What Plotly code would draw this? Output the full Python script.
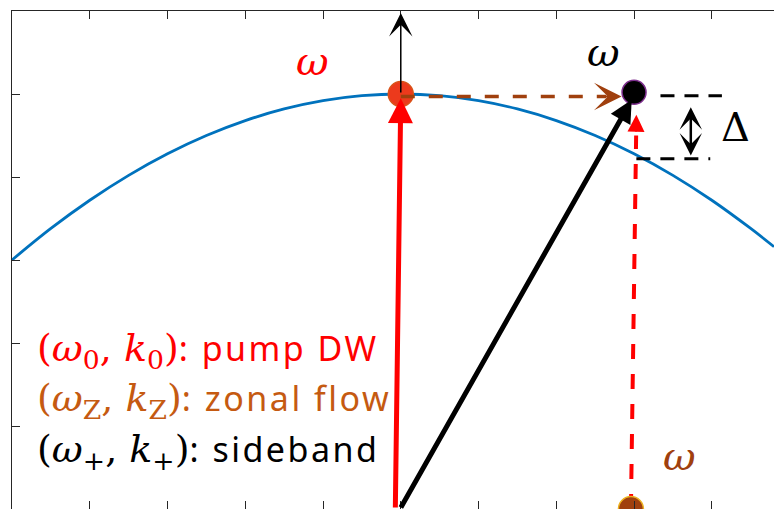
import plotly.graph_objects as go

# Dispersion curve (k, omega)
k_curve = [0.0, 0.5, 1.0, 1.5, 2.0, 2.5, 3.0, 3.5, 4.0, 4.5, 5.0, 5.5, 6.0, 6.5, 7.0, 7.5, 8.0, 8.5, 9.0, 9.5, 9.8]
w_curve = [3.0, 3.38, 3.72, 4.02, 4.28, 4.5, 4.68, 4.82, 4.92, 4.98, 5.0, 4.98, 4.92, 4.82, 4.68, 4.5, 4.28, 4.02, 3.72, 3.38, 3.16]

# Points
pump_k, pump_w = 5.0, 5.0
side_k, side_w = 8.0, 5.02
zon_k, zon_w = 7.96, 0.0

# Vectors (tail, tip)
red_vec = [(4.93, 0.0), (5.0, 4.95)]
black_vec = [(4.99, 0.0), (7.97, 4.93)]
thin_vec = [(5.0, 5.0), (5.0, 5.975)]
red_dash = [(7.96, 0.0), (8.03, 4.75)]
brown_dash = [(5.0, 4.97), (7.84, 4.97)]
delta_top = [(8.34, 4.98), (9.13, 4.98)]
delta_bot = [(8.03, 4.22), (8.98, 4.22)]
delta_arrow = [(8.73, 4.84), (8.73, 4.24)]

legend_lines = [
    ("ω", "0", "k", "0", ": pump DW", "#FF0000"),
    ("ω", "Z", "k", "Z", ": zonal flow", "#C55A11"),
    ("ω", "+", "k", "+", ": sideband", "#000000"),
]
legend_w = [1.91, 1.31, 0.70]

AX = "#262626"
BROWN = "#A0400E"
MATH = "DejaVu Serif"
SANS = "Noto Sans"

fig = go.Figure()
fig.add_trace(go.Scatter(x=k_curve, y=w_curve, mode="lines", line=dict(color="#0072BD", width=2.8, shape="spline"),
                         hoverinfo="skip", cliponaxis=False))
# red dashed zonal vector line
fig.add_trace(go.Scatter(x=[red_dash[0][0], red_dash[1][0] - 0.003], y=[red_dash[0][1], red_dash[1][1] - 0.25], mode="lines",
                         line=dict(color="#FF0000", width=4, dash="15px,15px"), cliponaxis=False))
# dots
fig.add_trace(go.Scatter(x=[pump_k], y=[pump_w], mode="markers", cliponaxis=False,
                         marker=dict(size=25, color="#EC3A1C", line=dict(color="#D95319", width=1.5))))
fig.add_trace(go.Scatter(x=[side_k], y=[side_w], mode="markers", cliponaxis=False,
                         marker=dict(size=24, color="#000000", line=dict(color="#7E2F8E", width=1.5))))
fig.add_trace(go.Scatter(x=[zon_k], y=[zon_w], mode="markers", cliponaxis=False,
                         marker=dict(size=25, color=BROWN, line=dict(color="#EDB120", width=1.5))))
# brown dashed
fig.add_trace(go.Scatter(x=[brown_dash[0][0], brown_dash[1][0] - 0.2], y=[brown_dash[0][1], brown_dash[1][1]], mode="lines",
                         line=dict(color=BROWN, width=3.5, dash="14px,14px"), cliponaxis=False))
# delta dashed lines
for seg in (delta_top, delta_bot):
    fig.add_trace(go.Scatter(x=[seg[0][0], seg[1][0]], y=[seg[0][1], seg[1][1]], mode="lines",
                             line=dict(color="#000000", width=3, dash="14px,10px"), cliponaxis=False))


def arrow(tail, tip, color, width, head=2, size=1.0, startarrow=False):
    fig.add_annotation(x=tip[0], y=tip[1], ax=tail[0], ay=tail[1], xref="x", yref="y", axref="x", ayref="y",
                       text="", showarrow=True, arrowhead=head, arrowsize=size, arrowwidth=width, arrowcolor=color,
                       startarrowhead=head, startarrowsize=size, arrowside="end+start" if startarrow else "end",
                       standoff=0, startstandoff=0)


arrow(thin_vec[0], thin_vec[1], "#000000", 1.5, head=3, size=2.6)
arrow(red_vec[0], red_vec[1], "#FF0000", 5, head=2, size=1.0)
arrow(black_vec[0], black_vec[1], "#000000", 5, head=2, size=0.9)
arrow((red_dash[1][0] - 0.005, red_dash[1][1] - 0.22), red_dash[1], "#FF0000", 2, head=2, size=1.7)
arrow((brown_dash[1][0] - 0.25, brown_dash[1][1]), brown_dash[1], BROWN, 2, head=3, size=2.3)
arrow(delta_arrow[1], delta_arrow[0], "#000000", 2.5, head=3, size=1.5, startarrow=True)

# omega labels
for (xx, yy, col) in [(3.87, 5.4, "#FF0000"), (7.61, 5.51, "#000000"), (8.59, 0.64, BROWN)]:
    fig.add_annotation(x=xx, y=yy, xref="x", yref="y", text="<i>ω</i>", showarrow=False,
                       font=dict(family=MATH, size=40, color=col), xanchor="center", yanchor="middle")

fig.add_annotation(x=9.31, y=4.6, xref="x", yref="y", text="Δ", showarrow=False,
                   font=dict(family=MATH, size=40, color="#000000"), xanchor="center", yanchor="middle")

for (w, s1, k, s2, txt, col), yy in zip(legend_lines, legend_w):
    t = (f'<span style="font-family:{MATH};font-size:38px">(<i>{w}</i><sub>{s1}</sub>, <i>{k}</i><sub>{s2}</sub>)</span>'
         f'<span style="letter-spacing:2.5px">{txt}</span>')
    fig.add_annotation(x=0.3, y=yy, xref="x", yref="y", text=t, showarrow=False, xanchor="left", yanchor="middle",
                       font=dict(family=SANS, size=34, color=col))

fig.update_layout(
    width=774, height=509, autosize=False, showlegend=False,
    margin=dict(l=12, r=0, t=11, b=0, pad=0),
    paper_bgcolor="white", plot_bgcolor="white",
    xaxis=dict(range=[0, 9.8], tick0=0, dtick=1, ticks="inside", ticklen=8, tickcolor=AX, tickwidth=1,
               showline=True, linecolor=AX, linewidth=1.2, mirror="ticks", showgrid=False, zeroline=False,
               showticklabels=False),
    yaxis=dict(range=[0, 6], tick0=0, dtick=1, ticks="inside", ticklen=8, tickcolor=AX, tickwidth=1,
               showline=True, linecolor=AX, linewidth=1.2, mirror=False, showgrid=False, zeroline=False,
               showticklabels=False),
)

fig.write_html("out.html")
